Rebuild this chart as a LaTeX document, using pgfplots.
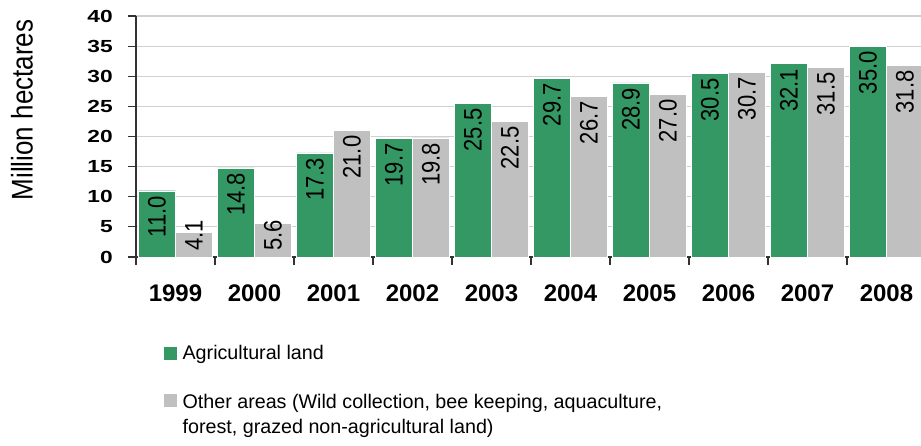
\documentclass[border=0pt]{standalone}
\usepackage{pgfplots}
\pgfplotsset{compat=1.18}
\usepackage{pgfplotstable}
\usepackage{fontspec}
\setmainfont{Liberation Sans}

\definecolor{agri}{RGB}{52,152,100}
\definecolor{other}{RGB}{192,192,192}
\definecolor{gridc}{RGB}{208,208,208}
\definecolor{axisc}{RGB}{50,50,50}

% year index, agricultural land, other areas (million ha)
\pgfplotstableread{
x agri other
0 11.0 4.1
1 14.8 5.6
2 17.3 21.0
3 19.7 19.8
4 25.5 22.5
5 29.7 26.7
6 28.9 27.0
7 30.5 30.7
8 32.1 31.5
9 35.0 31.8
}\datatable

\begin{document}
\begin{tikzpicture}
\begin{axis}[
    scale only axis, width=785pt, height=241pt,
    xmin=-0.5, xmax=9.437, ymin=0, ymax=40,
    /pgf/number format/assume math mode=true,
    axis x line*=bottom, axis y line*=left,
    axis line style={axisc, line width=1.2pt},
    ytick={0,5,...,40},
    ymajorgrids, grid style={gridc, line width=1.2pt},
    xtick={-0.5,0.5,...,8.5},
    xticklabels={},
    extra x ticks={0,...,9},
    extra x tick labels={1999,2000,2001,2002,2003,2004,2005,2006,2007,2008},
    extra x tick style={major tick length=0pt,
        xticklabel style={font=\fontsize{24}{24}\selectfont\bfseries,
            anchor=north, inner sep=0pt, yshift=-28pt}},
    tick align=outside, major tick length=8pt,
    tick style={axisc, line width=1.2pt},
    yticklabel={\scalebox{1.3}[1]{\bfseries\pgfmathprintnumber{\tick}}},
    yticklabel style={font=\fontsize{17.5}{17.5}\selectfont\bfseries,
        anchor=east, inner sep=0pt, xshift=-15pt},
    ylabel={\scalebox{1}[1.15]{Million hectares}},
    ylabel style={font=\fontsize{26}{26}\selectfont, rotate=0,
        at={(axis description cs:-0.1452,0.61)}, anchor=center},
    ybar, bar width=37pt,
    nodes near coords={\scalebox{1}[1.15]{\pgfmathprintnumber[fixed,fixed zerofill,precision=1,assume math mode=true]{\pgfplotspointmeta}}},
    every node near coord/.append style={rotate=90, anchor=east,
        font=\fontsize{22}{22}\selectfont, inner xsep=5pt, inner ysep=0pt, black},
    legend style={draw=none, fill=none, inner sep=0pt,
        at={(axis description cs:0.0344,-0.3651)}, anchor=north west,
        font=\fontsize{19.7}{25}\selectfont,
        nodes={inner sep=0pt}, column sep=5pt, row sep=30pt},
    legend cell align=left,
    legend image code/.code={\fill[#1] (0pt,-7pt) rectangle (14pt,7pt);},
]
\addplot[fill=agri, draw=white, line width=0.4pt, bar shift=-18.5pt]
    table[x=x, y=agri] {\datatable};
\addlegendentry{Agricultural land}
% short bars: the label is pushed up so that it ends above the axis
\addplot[fill=other, draw=white, line width=0.4pt, bar shift=18.5pt,
    visualization depends on={rawy \as \yv},
    nodes near coords={\pgfmathsetmacro{\dd}{max(0,42-\yv*6.025)}%
        \scalebox{1}[1.15]{\pgfmathprintnumber[fixed,fixed zerofill,precision=1,assume math mode=true]{\pgfplotspointmeta}}\kern-\dd pt\relax}]
    table[x=x, y=other] {\datatable};
\addlegendentry{\begin{tabular}[t]{@{}l@{}}Other areas (Wild collection, bee keeping, aquaculture,\\forest, grazed non-agricultural land)\end{tabular}}
\coordinate (sw) at (rel axis cs:0,0);
\end{axis}
\pgfresetboundingbox
\path[use as bounding box] ([shift={(-136pt,-188pt)}]sw) rectangle ([shift={(785pt,257pt)}]sw);
\end{tikzpicture}
\end{document}
